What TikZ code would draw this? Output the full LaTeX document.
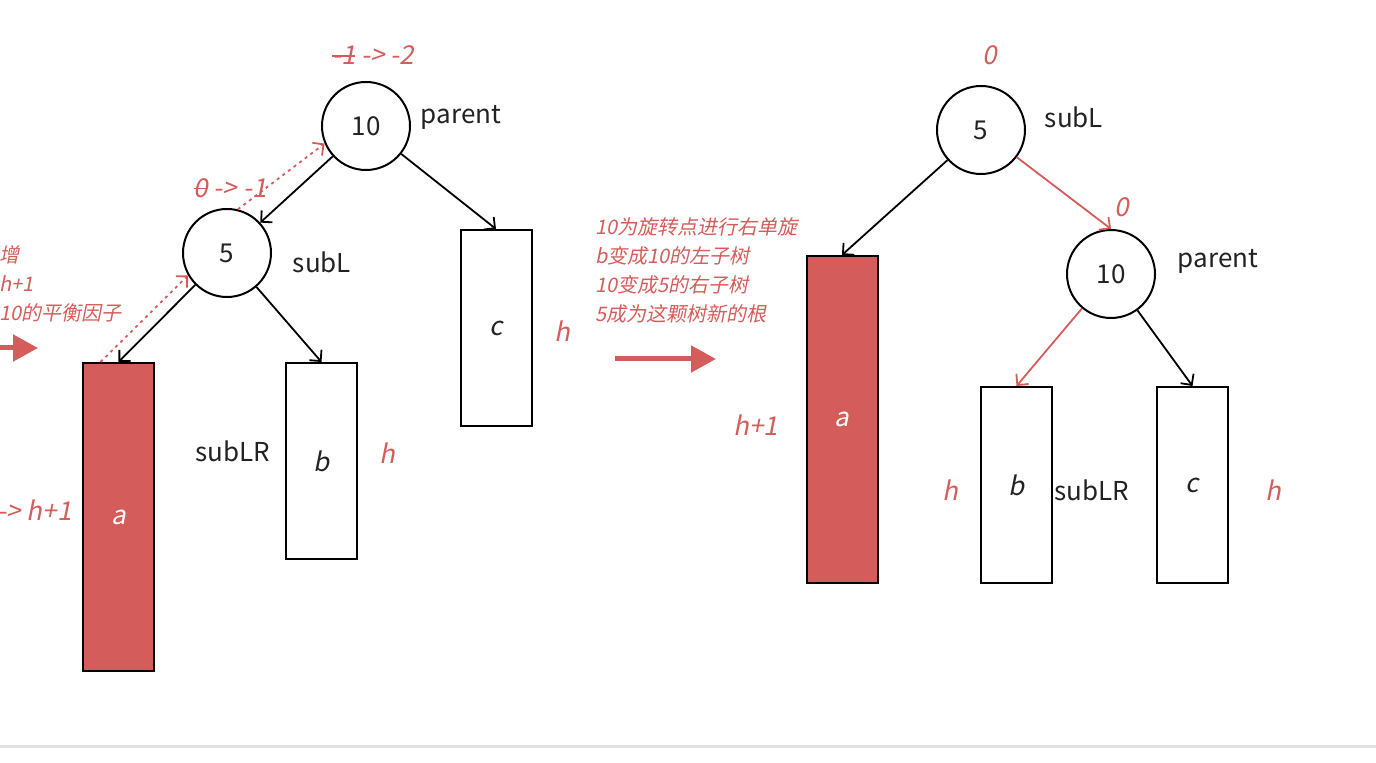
\documentclass[tikz,border=0pt]{standalone}
\usepackage{fontspec}
\newfontfamily\cjk{Noto Sans CJK SC}
\newfontfamily\cjkit[FakeSlant=0.2]{Noto Sans CJK SC}
\usetikzlibrary{arrows.meta, positioning}
\definecolor{avlred}{RGB}{212,92,90}
\definecolor{inkgray}{RGB}{34,34,34}
\definecolor{rulegray}{RGB}{224,224,230}
\newcommand{\strk}[1]{\setbox0\hbox{#1}\rlap{\raisebox{0.3em}{\rule{\wd0}{0.07em}}}\box0\relax}

\begin{document}
\begin{tikzpicture}[
        x=0.5pt, y=-0.5pt,
        treenode/.style={circle, draw=black, line width=1pt, minimum size=44pt, inner sep=0pt, font=\cjk\fontsize{13}{15}\selectfont, text=inkgray},
        subtree/.style={rectangle, draw=black, line width=1pt, minimum width=35.5pt, inner sep=0pt, font=\cjkit\fontsize{13}{15}\selectfont, text=inkgray},
        hot/.style={subtree, fill=avlred, text=white},
        tag/.style={font=\cjk\fontsize{13}{15}\selectfont, text=inkgray, inner sep=0pt},
        bf/.style={font=\cjkit\fontsize{13}{15}\selectfont, text=avlred, inner sep=0pt},
        note/.style={font=\cjkit\fontsize{10}{14.5}\selectfont, text=avlred, align=left, inner sep=0pt},
        arrow/.style={-{Straight Barb[length=4pt,width=8pt]}, line width=0.9pt, draw=black},
        redarrow/.style={arrow, draw=avlred},
        trace/.style={-{Straight Barb[length=4pt,width=8pt]}, line width=0.9pt, draw=avlred, dash pattern=on 1.5pt off 2pt},
        bigarrow/.style={-{Triangle[length=12.5pt,width=13pt]}, line width=2.5pt, draw=avlred}
    ]
        \useasboundingbox (0,0) rectangle (1376,763);
        \clip (0,0) rectangle (1376,763);

        % before rotation
        \node[treenode] (ten) at (366,126) {10};
        \node[tag] (parentL) at (461,117) {parent};
        \node[bf] (bfTen) at (373,55) {\strk{-1} -> -2};
        \node[treenode] (five) at (227,253) {5};
        \node[tag] (subLL) at (322,262) {subL};
        \node[bf] (bfFive) at (230,188) {\strk{0} -> -1};
        \node[hot, minimum height=154pt] (a) at (118.5,517) {a};
        \node[subtree, minimum height=98pt] (b) at (321.5,461) {b};
        \node[tag] (subLRL) at (233,451) {subLR};
        \node[bf] (hb) at (387,453) {h};
        \node[subtree, minimum height=98pt] (c) at (496,328) {c};
        \node[bf] (hc) at (562,331) {h};
        \node[bf, anchor=east] (ha) at (72,510) {h -> h+1};

        \node[note, anchor=east] (noteA) at (20,255) {新增};
        \node[note, anchor=east] (noteB) at (34,284) {h+1};
        \node[note, anchor=east] (noteC) at (122,313) {影响10的平衡因子};
        \coordinate (inL) at (-40,348);
        \coordinate (inR) at (38,348);

        \draw[arrow] (ten) -- (five);
        \draw[arrow] (ten) -- (c.north);
        \draw[arrow] (five) -- (a.north);
        \draw[arrow] (five) -- (b.north);
        \draw[trace] ([xshift=-9pt]a.north) -- (five.210);
        \draw[trace] (five.76) -- (ten.203);
        \draw[bigarrow] (inL) -- (inR);

        % rotation note
        \node[note, anchor=west] (steps) at (595,270) {10为旋转点进行右单旋\\b变成10的左子树\\10变成5的右子树\\5成为这颗树新的根};
        \coordinate (goL) at (615,359);
        \coordinate (goR) at (716,359);
        \draw[bigarrow] (goL) -- (goR);

        % after rotation
        \node[treenode] (five2) at (981,130) {5};
        \node[tag] (subLR2) at (1074,117) {subL};
        \node[bf] (bfFive2) at (990,55) {0};
        \node[treenode] (ten2) at (1111,274) {10};
        \node[tag] (parentR) at (1218,261) {parent};
        \node[bf] (bfTen2) at (1122,207) {0};
        \node[hot, minimum height=163.5pt] (a2) at (842,419.5) {a};
        \node[bf] (ha2) at (756,425) {h+1};
        \node[subtree, minimum height=98pt] (b2) at (1016.5,485) {b};
        \node[bf] (hb2) at (950,490) {h};
        \node[tag] (subLRR) at (1092,490) {subLR};
        \node[subtree, minimum height=98pt] (c2) at (1192.5,485) {c};
        \node[bf] (hc2) at (1273,490) {h};

        \draw[arrow] (five2) -- (a2.north);
        \draw[redarrow] (five2) -- (ten2.north);
        \draw[redarrow] (ten2) -- (b2.north);
        \draw[arrow] (ten2) -- (c2.north);

        \draw[line width=1.5pt, draw=rulegray] (0,747) -- (1376,747);
    \end{tikzpicture}
\end{document}
